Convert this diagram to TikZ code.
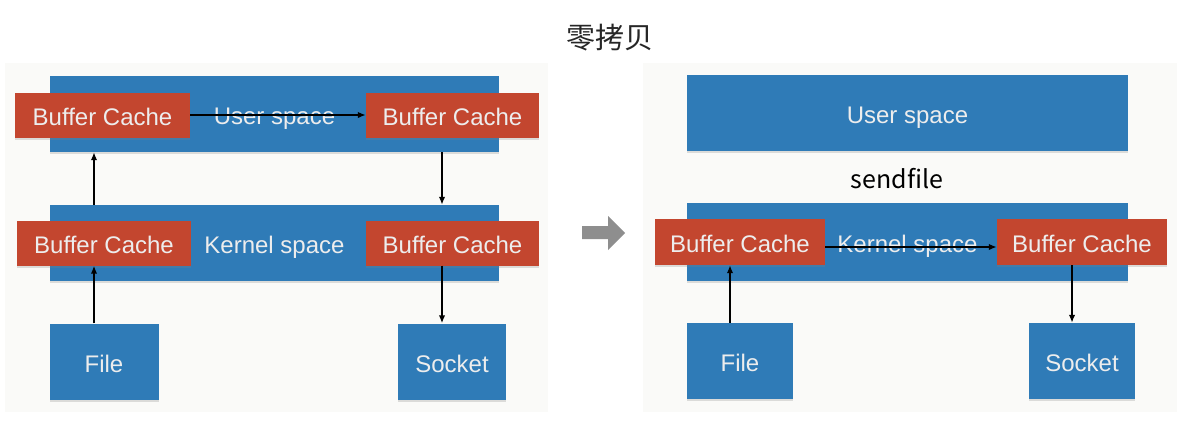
\documentclass[tikz,border=0pt]{standalone}
\usepackage{fontspec}
\setmainfont{Liberation Sans}
\newfontfamily\cjkfont{Noto Sans CJK SC}
\usepackage{xcolor}
\usepackage{tikz}
\usetikzlibrary{positioning}
\usetikzlibrary{arrows.meta, shadows}

\definecolor{spaceblue}{HTML}{2F7BB7}
\definecolor{cachered}{HTML}{C3462F}
\definecolor{panelbg}{HTML}{FAFAF8}
\definecolor{bigarrow}{HTML}{8E8E8E}

\tikzset{
    boxtext/.style={font=\fontsize{24}{28}\selectfont, text=white!93!black,
        text height=21pt, text depth=0pt},
    spacebar/.style={rectangle, fill=spaceblue, inner sep=0pt, boxtext,
        drop shadow={shadow xshift=0pt, shadow yshift=-2pt, opacity=.25}},
    cachebox/.style={rectangle, fill=cachered, inner sep=0pt, boxtext,
        minimum height=45, drop shadow={shadow xshift=0pt, shadow yshift=-2pt, opacity=.25}},
    devbox/.style={spacebar, minimum width=108, minimum height=76},
    flow/.style={-{Latex[length=8pt,width=6.5pt]}, line width=2pt, black}
}

\begin{document}
\begin{tikzpicture}[x=1pt, y=-1pt]
    \useasboundingbox (0,0) rectangle (1186,424);
    \fill[panelbg] (5,63) rectangle (548,412);
    \fill[panelbg] (643,63) rectangle (1177,412);

    \node[text=black!85, font=\cjkfont\fontsize{29}{33}\selectfont] (title) at (610,38) {零拷贝};

    \begin{scope}
        \node[spacebar, minimum width=449, minimum height=76] (user1) at (274.5,114) {User space};
        \node[spacebar, minimum width=449, minimum height=76] (kernel1) at (274.5,243) {Kernel space};
        \node[cachebox, minimum width=175] (ubcL) at (102.5,115) {Buffer Cache};
        \node[cachebox, minimum width=173] (ubcR) at (452.5,115) {Buffer Cache};
        \node[cachebox, minimum width=174] (kbcL) at (104,243) {Buffer Cache};
        \node[cachebox, minimum width=173] (kbcR) at (452.5,243) {Buffer Cache};
        \node[devbox, minimum width=109] (file1) at (104,361.5) {File};
        \node[devbox] (socket1) at (452,361.5) {Socket};

        \draw[flow] ([xshift=-10pt]file1.north) -- ([xshift=-10pt]file1.north |- kbcL.south);
        \draw[flow] ([xshift=-10pt]kbcL.center |- kernel1.north) -- ([xshift=-10pt]kbcL.center |- user1.south);
        \draw[flow] (ubcL.east) -- (ubcR.west);
        \draw[flow] ([xshift=-10pt]socket1.north |- user1.south) -- ([xshift=-10pt]socket1.north |- kernel1.north);
        \draw[flow] ([xshift=-10pt]socket1.north |- kbcR.south) -- ([xshift=-10pt]socket1.north);
    \end{scope}

    \fill[bigarrow] (582,226) -- (608,226) -- (608,216) -- (625,233) -- (608,250) -- (608,239) -- (582,239) -- cycle;

    \begin{scope}
        \node[spacebar, minimum width=441, minimum height=76] (user2) at (907.5,113) {User space};
        \node[font=\cjkfont\fontsize{25}{29}\selectfont, text=black] (sendfile) at (897,179) {sendfile};
        \node[spacebar, minimum width=441, minimum height=78] (kernel2) at (907.5,242) {Kernel space};
        \node[cachebox, minimum width=170, minimum height=46] (kbc2L) at (740,242) {Buffer Cache};
        \node[cachebox, minimum width=170, minimum height=46] (kbc2R) at (1082,242) {Buffer Cache};
        \node[devbox, minimum width=106] (file2) at (740,361) {File};
        \node[devbox, minimum width=106] (socket2) at (1082,361) {Socket};

        \draw[flow] ([xshift=-10pt]file2.north) -- ([xshift=-10pt]file2.north |- kbc2L.south);
        \draw[flow] ([yshift=-5pt]kbc2L.east) -- ([yshift=-5pt]kbc2R.west);
        \draw[flow] ([xshift=-10pt]kbc2R.south) -- ([xshift=-10pt]kbc2R.south |- socket2.north);
    \end{scope}
\end{tikzpicture}
\end{document}
